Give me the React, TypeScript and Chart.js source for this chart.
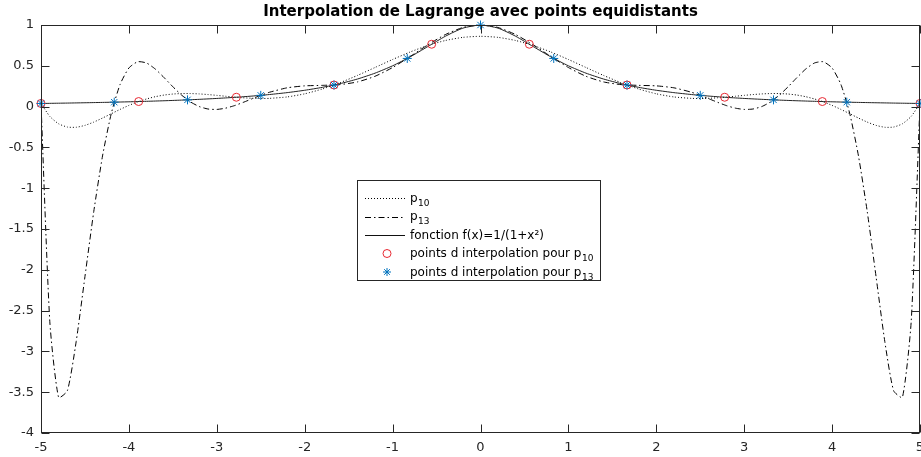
import React, { useEffect, useRef } from "react";
import { Chart, registerables } from "chart.js";

Chart.register(...registerables);

const titleText = "Interpolation de Lagrange avec points equidistants";

const xs = [
  -5, -4.9, -4.8, -4.7, -4.6, -4.5, -4.4, -4.3, -4.2, -4.1, -4, -3.9, -3.8, -3.7, -3.6, -3.5, -3.4, -3.3, -3.2, -3.1,
  -3, -2.9, -2.8, -2.7, -2.6, -2.5, -2.4, -2.2, -2, -1.8, -1.6, -1.4, -1.2, -1, -0.8, -0.6, -0.4, -0.2, 0, 0.2, 0.4,
  0.6, 0.8, 1, 1.2, 1.4, 1.6, 1.8, 2, 2.2, 2.4, 2.5, 2.6, 2.7, 2.8, 2.9, 3, 3.1, 3.2, 3.3, 3.4, 3.5, 3.6, 3.7, 3.8,
  3.9, 4, 4.1, 4.2, 4.3, 4.4, 4.5, 4.6, 4.7, 4.8, 4.9, 5,
];

const p10Values = [
  0.0385, -0.1197, -0.2106, -0.2506, -0.2533, -0.23, -0.1899, -0.1403, -0.087, -0.0343, 0.0147, 0.0577, 0.0934,
  0.1214, 0.1414, 0.154, 0.1598, 0.1599, 0.1554, 0.1475, 0.1377, 0.127, 0.1168, 0.1082, 0.1021, 0.0995, 0.101,
  0.1184, 0.1566, 0.2154, 0.292, 0.3819, 0.4793, 0.5774, 0.6695, 0.7488, 0.8099, 0.8484, 0.8615, 0.8484, 0.8099,
  0.7488, 0.6695, 0.5774, 0.4793, 0.3819, 0.292, 0.2154, 0.1566, 0.1184, 0.101, 0.0995, 0.1021, 0.1082, 0.1168,
  0.127, 0.1377, 0.1475, 0.1554, 0.1599, 0.1598, 0.154, 0.1414, 0.1214, 0.0934, 0.0577, 0.0147, -0.0343, -0.087,
  -0.1403, -0.1899, -0.23, -0.2533, -0.2506, -0.2106, -0.1197, 0.0385,
];

const p13Values = [
  0.0385, -2.6308, -3.5637, -3.4822, -2.881, -2.0834, -1.2881, -0.6049, -0.0819, 0.2722, 0.4733, 0.5498, 0.5347,
  0.4604, 0.3557, 0.2434, 0.1404, 0.0577, 0.0006, -0.0295, -0.0346, -0.0191, 0.0115, 0.0515, 0.0952, 0.1379, 0.176,
  0.2302, 0.2541, 0.2602, 0.2695, 0.3023, 0.3716, 0.4789, 0.6138, 0.7565, 0.8826, 0.9692, 1, 0.9692, 0.8826, 0.7565,
  0.6138, 0.4789, 0.3716, 0.3023, 0.2695, 0.2602, 0.2541, 0.2302, 0.176, 0.1379, 0.0952, 0.0515, 0.0115, -0.0191,
  -0.0346, -0.0295, 0.0006, 0.0577, 0.1404, 0.2434, 0.3557, 0.4604, 0.5347, 0.5498, 0.4733, 0.2722, -0.0819, -0.6049,
  -1.2881, -2.0834, -2.881, -3.4822, -3.5637, -2.6308, 0.0385,
];

const fValues = [
  0.0385, 0.04, 0.0416, 0.0433, 0.0451, 0.0471, 0.0491, 0.0513, 0.0536, 0.0561, 0.0588, 0.0617, 0.0648, 0.0681,
  0.0716, 0.0755, 0.0796, 0.0841, 0.089, 0.0943, 0.1, 0.1063, 0.1131, 0.1206, 0.1289, 0.1379, 0.1479, 0.1712, 0.2,
  0.2358, 0.2809, 0.3378, 0.4098, 0.5, 0.6098, 0.7353, 0.8621, 0.9615, 1, 0.9615, 0.8621, 0.7353, 0.6098, 0.5,
  0.4098, 0.3378, 0.2809, 0.2358, 0.2, 0.1712, 0.1479, 0.1379, 0.1289, 0.1206, 0.1131, 0.1063, 0.1, 0.0943, 0.089,
  0.0841, 0.0796, 0.0755, 0.0716, 0.0681, 0.0648, 0.0617, 0.0588, 0.0561, 0.0536, 0.0513, 0.0491, 0.0471, 0.0451,
  0.0433, 0.0416, 0.04, 0.0385,
];

const nodes10X = [-5, -3.8889, -2.7778, -1.6667, -0.5556, 0.5556, 1.6667, 2.7778, 3.8889, 5];
const nodes10Y = [0.0385, 0.062, 0.1147, 0.2647, 0.7642, 0.7642, 0.2647, 0.1147, 0.062, 0.0385];

const nodes13X = [-5, -4.1667, -3.3333, -2.5, -1.6667, -0.8333, 0, 0.8333, 1.6667, 2.5, 3.3333, 4.1667, 5];
const nodes13Y = [0.0385, 0.0545, 0.0826, 0.1379, 0.2647, 0.5902, 1, 0.5902, 0.2647, 0.1379, 0.0826, 0.0545, 0.0385];

const xTicks = [-5, -4, -3, -2, -1, 0, 1, 2, 3, 4, 5];
const yTicks = [-4, -3.5, -3, -2.5, -2, -1.5, -1, -0.5, 0, 0.5, 1];

const legendEntries = [
  { main: "p", sub: "10", kind: "dotted" },
  { main: "p", sub: "13", kind: "dashdot" },
  { main: "fonction f(x)=1/(1+x\u00B2)", sub: "", kind: "solid" },
  { main: "points d interpolation pour p", sub: "10", kind: "circle" },
  { main: "points d interpolation pour p", sub: "13", kind: "star" },
];

const FONT = "'DejaVu Sans', sans-serif";
const AXIS_COLOR = "#262626";
const RED = "rgb(232,40,50)";
const BLUE = "rgb(0,114,189)";
const DOT_DASH = [1, 2];
const DASHDOT = [6, 3, 1.5, 3];

function toPoints(xa: number[], ya: number[]) {
  return xa.map((x, i) => ({ x, y: ya[i] }));
}

export default function App() {
  const canvasRef = useRef<HTMLCanvasElement | null>(null);

  useEffect(() => {
    const canvas = canvasRef.current;
    if (!canvas) return;

    const framePlugin = {
      id: "matlabFrame",
      afterDraw(chart: any) {
        const ctx = chart.ctx as CanvasRenderingContext2D;
        const area = chart.chartArea;
        const xs_ = chart.scales.x;
        const ys_ = chart.scales.y;
        ctx.save();
        ctx.strokeStyle = AXIS_COLOR;
        ctx.lineWidth = 1;
        ctx.setLineDash([]);
        const L = Math.round(area.left) + 0.5;
        const R = Math.round(area.right) - 0.5;
        const T = Math.round(area.top) + 0.5;
        const B = Math.round(area.bottom) - 0.5;
        ctx.strokeRect(L, T, R - L, B - T);
        const tl = 8;
        ctx.beginPath();
        xTicks.forEach((v) => {
          const px = Math.round(xs_.getPixelForValue(v)) + 0.5;
          ctx.moveTo(px, B);
          ctx.lineTo(px, B - tl);
          ctx.moveTo(px, T);
          ctx.lineTo(px, T + tl);
        });
        yTicks.forEach((v) => {
          const py = Math.round(ys_.getPixelForValue(v)) + 0.5;
          ctx.moveTo(L, py);
          ctx.lineTo(L + tl, py);
          ctx.moveTo(R, py);
          ctx.lineTo(R - tl, py);
        });
        ctx.stroke();

        // title
        ctx.fillStyle = "#000";
        ctx.font = `bold 15px ${FONT}`;
        ctx.textAlign = "center";
        ctx.textBaseline = "alphabetic";
        ctx.fillText(titleText, (area.left + area.right) / 2, 16);

        // legend
        const bx = 357.5, by = 180.5, bw = 243, bh = 100;
        ctx.fillStyle = "#fff";
        ctx.fillRect(bx, by, bw, bh);
        ctx.strokeStyle = AXIS_COLOR;
        ctx.lineWidth = 1;
        ctx.strokeRect(bx, by, bw, bh);
        const rowY0 = 198;
        const rowStep = 18.5;
        const lx0 = 365, lx1 = 405, mx = 387, tx = 410;
        legendEntries.forEach((e, i) => {
          const y = rowY0 + i * rowStep;
          ctx.save();
          if (e.kind === "dotted" || e.kind === "dashdot" || e.kind === "solid") {
            ctx.strokeStyle = e.kind === "solid" ? "#111" : "#000";
            ctx.lineWidth = 1;
            ctx.setLineDash(e.kind === "dotted" ? DOT_DASH : e.kind === "dashdot" ? DASHDOT : []);
            ctx.beginPath();
            ctx.moveTo(lx0, Math.round(y) + 0.5);
            ctx.lineTo(lx1, Math.round(y) + 0.5);
            ctx.stroke();
          } else if (e.kind === "circle") {
            ctx.strokeStyle = RED;
            ctx.lineWidth = 1;
            ctx.beginPath();
            ctx.arc(mx, y, 4, 0, Math.PI * 2);
            ctx.stroke();
          } else {
            ctx.strokeStyle = BLUE;
            ctx.lineWidth = 1;
            const r = 4;
            ctx.beginPath();
            for (let k = 0; k < 4; k++) {
              const a = (k * Math.PI) / 4;
              ctx.moveTo(mx - r * Math.cos(a), y - r * Math.sin(a));
              ctx.lineTo(mx + r * Math.cos(a), y + r * Math.sin(a));
            }
            ctx.stroke();
          }
          ctx.restore();
          ctx.fillStyle = "#000";
          ctx.textAlign = "left";
          ctx.textBaseline = "alphabetic";
          ctx.font = `12px ${FONT}`;
          const base = y + 3.5;
          ctx.fillText(e.main, tx, base);
          if (e.sub) {
            const w = ctx.measureText(e.main).width;
            ctx.font = `9px ${FONT}`;
            ctx.fillText(e.sub, tx + w + 0.5, base + 4);
          }
        });
        ctx.restore();
      },
    };

    const chart = new Chart(canvas, {
      type: "line",
      data: {
        datasets: [
          {
            label: "p10",
            data: toPoints(xs, p10Values),
            borderColor: "#000",
            borderWidth: 1,
            borderDash: DOT_DASH,
            pointRadius: 0,
            tension: 0.2,
            fill: false,
            order: 5,
          },
          {
            label: "p13",
            data: toPoints(xs, p13Values),
            borderColor: "#000",
            borderWidth: 1,
            borderDash: DASHDOT,
            pointRadius: 0,
            tension: 0.2,
            fill: false,
            order: 4,
          },
          {
            label: "fonction f(x)=1/(1+x²)",
            data: toPoints(xs, fValues),
            borderColor: "#222",
            borderWidth: 1,
            pointRadius: 0,
            tension: 0.2,
            fill: false,
            order: 3,
          },
          {
            label: "points d interpolation pour p10",
            data: toPoints(nodes10X, nodes10Y),
            showLine: false,
            pointStyle: "circle",
            pointRadius: 4,
            pointBorderWidth: 1,
            pointBorderColor: RED,
            pointBackgroundColor: "rgba(0,0,0,0)",
            clip: false,
            order: 2,
          },
          {
            label: "points d interpolation pour p13",
            data: toPoints(nodes13X, nodes13Y),
            showLine: false,
            pointStyle: "star",
            pointRadius: 4.5,
            pointBorderWidth: 1,
            pointBorderColor: BLUE,
            pointBackgroundColor: BLUE,
            clip: false,
            order: 1,
          },
        ] as any,
      },
      options: {
        animation: false,
        responsive: false,
        devicePixelRatio: 1,
        layout: { autoPadding: false, padding: { top: 25, right: 1, left: 0, bottom: 0 } },
        plugins: {
          legend: { display: false },
          title: { display: false },
          tooltip: { enabled: false },
        },
        events: [],
        scales: {
          x: {
            type: "linear",
            min: -5,
            max: 5,
            grid: { display: false, drawTicks: false },
            border: { display: false },
            afterBuildTicks: (scale: any) => {
              scale.ticks = xTicks.map((v) => ({ value: v }));
            },
            afterFit: (scale: any) => {
              scale.height = 24;
              scale.paddingLeft = 0;
              scale.paddingRight = 0;
            },
            ticks: {
              color: AXIS_COLOR,
              font: { family: FONT, size: 13 },
              padding: 7,
              maxRotation: 0,
              autoSkip: false,
              callback: (v: any) => String(v),
            },
          },
          y: {
            type: "linear",
            min: -4,
            max: 1,
            grid: { display: false, drawTicks: false },
            border: { display: false },
            afterBuildTicks: (scale: any) => {
              scale.ticks = yTicks.map((v) => ({ value: v }));
            },
            afterFit: (scale: any) => {
              scale.width = 41;
              scale.paddingTop = 0;
              scale.paddingBottom = 0;
            },
            ticks: {
              color: AXIS_COLOR,
              font: { family: FONT, size: 13 },
              padding: 7,
              autoSkip: false,
              callback: (v: any) => String(v),
            },
          },
        },
      },
      plugins: [framePlugin],
    } as any);

    return () => chart.destroy();
  }, []);

  return (
    <div style={{ position: "absolute", left: 0, top: 0, width: 921, height: 457, background: "#fff" }}>
      <canvas ref={canvasRef} width={921} height={457} style={{ width: 921, height: 457, display: "block" }} />
    </div>
  );
}
